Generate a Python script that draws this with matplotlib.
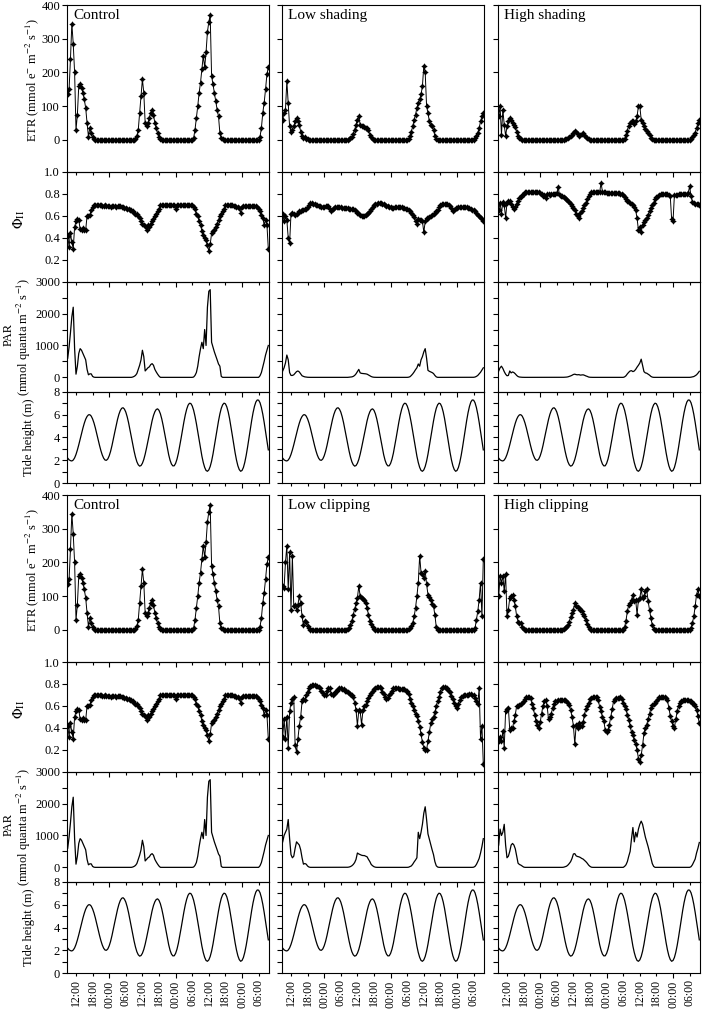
import numpy as np
import matplotlib
matplotlib.use("Agg")
import matplotlib.pyplot as plt

plt.rcParams["font.family"] = "Liberation Serif"
plt.rcParams["mathtext.fontset"] = "stix"

# half-hourly readings, hours counted from midnight of day 1 (9:00 day 1 -> 9:30 day 4)
hours = np.arange(9.0, 82.0, 0.5)

tide_height = [
    2.20, 2.05, 1.98, 1.95, 2.03, 2.22, 2.52, 2.91, 3.36, 3.85, 4.35, 4.82, 5.25, 5.60, 5.84, 5.98, 5.99, 5.87, 5.62, 5.27, 4.83, 4.34, 3.82, 3.31,
    2.85, 2.47, 2.19, 2.03, 2.01, 2.13, 2.40, 2.79, 3.29, 3.85, 4.45, 5.03, 5.57, 6.02, 6.35, 6.55, 6.60, 6.48, 6.22, 5.81, 5.29, 4.69, 4.05, 3.41,
    2.81, 2.29, 1.88, 1.62, 1.50, 1.55, 1.75, 2.08, 2.54, 3.09, 3.69, 4.31, 4.91, 5.46, 5.92, 6.25, 6.45, 6.50, 6.37, 6.07, 5.62, 5.05, 4.41, 3.73,
    3.08, 2.49, 2.01, 1.68, 1.52, 1.53, 1.74, 2.11, 2.63, 3.27, 3.96, 4.68, 5.37, 5.98, 6.47, 6.82, 6.99, 6.97, 6.76, 6.39, 5.86, 5.23, 4.51, 3.76,
    3.03, 2.37, 1.81, 1.39, 1.12, 1.05, 1.17, 1.47, 1.93, 2.54, 3.24, 3.99, 4.74, 5.44, 6.06, 6.55, 6.86, 7.00, 6.94, 6.68, 6.24, 5.65, 4.94, 4.18,
    3.41, 2.67, 2.03, 1.53, 1.20, 1.05, 1.12, 1.38, 1.83, 2.43, 3.15, 3.93, 4.73, 5.50, 6.18, 6.72, 7.10, 7.28, 7.26, 7.04, 6.62, 6.04, 5.33, 4.54,
    3.72, 2.92]

# ---- Control ----
etr_control = [
    135, 150, 240, 345, 285, 200, 30, 75, 160, 165, 155, 140, 120, 95, 50, 10, 35, 20, 8, 2, 0, 0, 0, 0,
    0, 0, 0, 0, 0, 0, 0, 0, 0, 0, 0, 0, 0, 0, 0, 0, 0, 0, 0, 0, 0, 0, 0, 0,
    0, 3, 12, 30, 80, 130, 180, 140, 50, 40, 50, 65, 80, 90, 75, 50, 35, 20, 8, 2, 0, 0, 0, 0,
    0, 0, 0, 0, 0, 0, 0, 0, 0, 0, 0, 0, 0, 0, 0, 0, 0, 0, 0, 5, 30, 65, 100, 140,
    170, 210, 250, 215, 260, 320, 350, 370, 190, 165, 140, 115, 90, 70, 20, 5, 2, 0, 0, 0, 0, 0, 0, 0,
    0, 0, 0, 0, 0, 0, 0, 0, 0, 0, 0, 0, 0, 0, 0, 0, 0, 0, 0, 10, 35, 80, 110, 150,
    195, 215]
phi_control = [
    .42, .32, .44, .36, .30, .50, .55, .57, .56, .48, .47, .49, .47, .47, .60, .60, .61, .65, .68, .70, .70, .70, .70, .70,
    .70, .69, .69, .70, .69, .69, .69, .68, .69, .69, .69, .68, .69, .69, .69, .68, .68, .67, .67, .66, .66, .65, .65, .64,
    .63, .62, .62, .60, .58, .55, .53, .52, .51, .47, .52, .50, .53, .55, .57, .60, .62, .64, .66, .70, .70, .70, .70, .70,
    .70, .70, .70, .70, .70, .70, .66, .70, .70, .70, .70, .70, .70, .70, .70, .70, .70, .70, .70, .68, .66, .62, .60, .55,
    .52, .46, .43, .40, .38, .33, .28, .34, .44, .46, .47, .50, .53, .56, .60, .62, .64, .66, .70, .70, .70, .70, .70, .70,
    .69, .69, .68, .68, .67, .63, .68, .69, .69, .69, .69, .69, .69, .69, .69, .69, .69, .68, .66, .64, .61, .58, .52, .56,
    .52, .30]
par_control = [
    600, 950, 1400, 1900, 2200, 900, 100, 350, 750, 900, 850, 750, 650, 550, 250, 80, 110, 110, 30, 5, 0, 0, 0, 0,
    0, 0, 0, 0, 0, 0, 0, 0, 0, 0, 0, 0, 0, 0, 0, 0, 0, 0, 0, 0, 0, 0, 0, 10,
    30, 60, 120, 250, 380, 550, 850, 650, 200, 250, 300, 330, 400, 430, 380, 250, 170, 100, 40, 0, 0, 0, 0, 0,
    0, 0, 0, 0, 0, 0, 0, 0, 0, 0, 0, 0, 0, 0, 0, 0, 0, 0, 0, 10, 60, 150, 350, 650,
    900, 1100, 900, 1500, 1000, 2200, 2700, 2750, 1100, 950, 800, 680, 550, 420, 350, 30, 0, 0, 0, 0, 0, 0, 0, 0,
    0, 0, 0, 0, 0, 0, 0, 0, 0, 0, 0, 0, 0, 0, 0, 0, 0, 0, 0, 50, 150, 320, 500, 700,
    850, 1000]

# ---- Low shading ----
etr_low_shading = [
    60, 80, 90, 175, 110, 40, 25, 30, 40, 55, 65, 55, 45, 25, 12, 5, 8, 4, 2, 0, 0, 0, 0, 0,
    0, 0, 0, 0, 0, 0, 0, 0, 0, 0, 0, 0, 0, 0, 0, 0, 0, 0, 0, 0, 0, 0, 0, 0,
    2, 5, 10, 18, 30, 45, 60, 70, 45, 40, 40, 38, 36, 34, 30, 15, 8, 3, 1, 0, 0, 0, 0, 0,
    0, 0, 0, 0, 0, 0, 0, 0, 0, 0, 0, 0, 0, 0, 0, 0, 0, 0, 0, 3, 12, 25, 40, 60,
    75, 95, 110, 120, 135, 160, 220, 200, 100, 80, 55, 45, 40, 30, 12, 3, 0, 0, 0, 0, 0, 0, 0, 0,
    0, 0, 0, 0, 0, 0, 0, 0, 0, 0, 0, 0, 0, 0, 0, 0, 0, 0, 0, 5, 12, 22, 35, 55,
    70, 80]
phi_low_shading = [
    .62, .55, .60, .56, .40, .35, .62, .63, .62, .61, .62, .63, .64, .64, .65, .65, .66, .66, .68, .70, .72, .72, .71, .71,
    .70, .70, .69, .69, .68, .68, .68, .69, .69, .69, .66, .64, .66, .67, .68, .68, .68, .68, .68, .67, .67, .67, .67, .67,
    .66, .66, .66, .66, .65, .64, .63, .62, .61, .60, .60, .60, .61, .62, .63, .64, .66, .68, .70, .71, .71, .72, .72, .72,
    .71, .71, .70, .69, .69, .68, .68, .67, .67, .68, .68, .68, .68, .68, .68, .67, .67, .66, .66, .65, .64, .63, .61, .59,
    .55, .53, .57, .56, .56, .55, .45, .55, .58, .58, .59, .60, .61, .62, .63, .64, .65, .68, .70, .71, .71, .71, .71, .71,
    .70, .69, .67, .64, .65, .67, .67, .68, .68, .68, .68, .68, .68, .68, .67, .67, .66, .65, .65, .64, .63, .61, .60, .58,
    .57, .55]
par_low_shading = [
    200, 300, 450, 700, 550, 150, 60, 60, 80, 130, 180, 200, 170, 110, 50, 30, 15, 8, 3, 0, 0, 0, 0, 0,
    0, 0, 0, 0, 0, 0, 0, 0, 0, 0, 0, 0, 0, 0, 0, 0, 0, 0, 0, 0, 0, 0, 0, 0,
    5, 10, 15, 30, 60, 110, 180, 250, 140, 125, 120, 115, 110, 100, 75, 50, 25, 10, 3, 0, 0, 0, 0, 0,
    0, 0, 0, 0, 0, 0, 0, 0, 0, 0, 0, 0, 0, 0, 0, 0, 0, 0, 0, 5, 20, 60, 110, 170,
    240, 300, 420, 350, 550, 650, 800, 900, 600, 220, 190, 170, 150, 120, 60, 15, 0, 0, 0, 0, 0, 0, 0, 0,
    0, 0, 0, 0, 0, 0, 0, 0, 0, 0, 0, 0, 0, 0, 0, 0, 0, 0, 2, 10, 30, 60, 110, 160,
    230, 300]

# ---- High shading ----
etr_high_shading = [
    70, 100, 15, 90, 45, 12, 40, 55, 65, 60, 50, 45, 38, 25, 12, 6, 3, 1, 0, 0, 0, 0, 0, 0,
    0, 0, 0, 0, 0, 0, 0, 0, 0, 0, 0, 0, 0, 0, 0, 0, 0, 0, 0, 0, 0, 0, 0, 1,
    2, 3, 5, 8, 12, 16, 22, 28, 24, 18, 13, 14, 18, 20, 14, 8, 5, 2, 0, 0, 0, 0, 0, 0,
    0, 0, 0, 0, 0, 0, 0, 0, 0, 0, 0, 0, 0, 0, 0, 0, 0, 0, 0, 4, 15, 28, 42, 50,
    55, 55, 48, 55, 70, 100, 100, 60, 50, 42, 33, 28, 20, 15, 6, 2, 0, 0, 0, 0, 0, 0, 0, 0,
    0, 0, 0, 0, 0, 0, 0, 0, 0, 0, 0, 0, 0, 0, 0, 0, 0, 0, 0, 3, 8, 14, 22, 35,
    50, 60]
phi_high_shading = [
    .65, .72, .62, .73, .70, .58, .72, .74, .74, .71, .68, .66, .68, .71, .74, .76, .77, .79, .80, .82, .82, .82, .82, .82,
    .82, .82, .82, .82, .82, .82, .81, .80, .78, .79, .76, .80, .80, .79, .80, .80, .80, .80, .81, .86, .79, .78, .78, .77,
    .76, .75, .74, .73, .71, .69, .67, .65, .62, .60, .58, .63, .64, .67, .70, .72, .75, .78, .80, .82, .82, .82, .82, .82,
    .82, .82, .90, .82, .82, .82, .81, .81, .81, .81, .81, .81, .81, .81, .81, .81, .80, .80, .79, .77, .75, .74, .73, .72,
    .71, .70, .68, .65, .58, .47, .50, .45, .52, .54, .56, .58, .61, .64, .67, .70, .72, .75, .77, .78, .79, .80, .80, .80,
    .80, .80, .80, .79, .78, .57, .55, .79, .79, .79, .80, .80, .80, .80, .80, .80, .80, .81, .87, .78, .73, .72, .71, .71,
    .71, .70]
par_high_shading = [
    200, 300, 350, 280, 180, 100, 50, 60, 200, 140, 170, 150, 110, 60, 25, 10, 5, 2, 0, 0, 0, 0, 0, 0,
    0, 0, 0, 0, 0, 0, 0, 0, 0, 0, 0, 0, 0, 0, 0, 0, 0, 0, 0, 0, 0, 0, 0, 2,
    5, 8, 15, 30, 45, 65, 90, 100, 85, 80, 85, 70, 75, 80, 65, 45, 30, 10, 3, 0, 0, 0, 0, 0,
    0, 0, 0, 0, 0, 0, 0, 0, 0, 0, 0, 0, 0, 0, 0, 0, 0, 0, 0, 15, 50, 110, 160, 200,
    210, 180, 200, 250, 320, 380, 450, 570, 380, 180, 140, 130, 100, 70, 30, 8, 0, 0, 0, 0, 0, 0, 0, 0,
    0, 0, 0, 0, 0, 0, 0, 0, 0, 0, 0, 0, 0, 0, 0, 0, 0, 0, 0, 5, 15, 25, 50, 80,
    130, 190]

# ---- Low clipping ----
etr_low_clipping = [
    130, 125, 200, 250, 120, 230, 60, 220, 70, 75, 60, 75, 100, 80, 40, 15, 28, 25, 12, 5, 1, 0, 0, 0,
    0, 0, 0, 0, 0, 0, 0, 0, 0, 0, 0, 0, 0, 0, 0, 0, 0, 0, 0, 0, 0, 0, 1, 3,
    6, 15, 28, 45, 62, 80, 95, 130, 100, 95, 92, 88, 80, 65, 45, 28, 18, 8, 2, 0, 0, 0, 0, 0,
    0, 0, 0, 0, 0, 0, 0, 0, 0, 0, 0, 0, 0, 0, 0, 0, 0, 0, 0, 2, 5, 12, 22, 40,
    65, 100, 140, 220, 170, 165, 155, 175, 135, 105, 98, 90, 78, 70, 45, 8, 0, 0, 0, 0, 0, 0, 0, 0,
    0, 0, 0, 0, 0, 0, 0, 0, 0, 0, 0, 0, 0, 0, 0, 0, 0, 0, 0, 5, 30, 55, 90, 140,
    40, 210]
phi_low_clipping = [
    .32, .48, .30, .50, .22, .55, .63, .66, .68, .24, .18, .30, .42, .50, .64, .66, .65, .70, .73, .76, .78, .79, .79, .79,
    .78, .78, .77, .76, .74, .72, .70, .70, .74, .76, .76, .71, .70, .71, .73, .74, .75, .76, .76, .75, .75, .74, .74, .73,
    .72, .71, .70, .68, .63, .56, .42, .56, .55, .43, .56, .60, .61, .64, .67, .70, .72, .74, .75, .76, .77, .77, .77, .76,
    .73, .71, .68, .66, .67, .70, .72, .74, .76, .76, .76, .76, .75, .75, .75, .75, .75, .74, .74, .71, .66, .63, .60, .56,
    .53, .51, .46, .41, .34, .27, .22, .20, .20, .28, .36, .44, .48, .50, .54, .60, .64, .68, .73, .76, .77, .77, .76, .76,
    .74, .73, .69, .66, .63, .60, .58, .62, .65, .68, .69, .70, .70, .70, .70, .71, .71, .70, .70, .67, .64, .62, .76, .30,
    .42, .07]
par_low_clipping = [
    800, 1000, 1100, 1200, 1500, 900, 400, 300, 350, 600, 800, 750, 700, 550, 300, 100, 120, 100, 40, 10, 0, 0, 0, 0,
    0, 0, 0, 0, 0, 0, 0, 0, 0, 0, 0, 0, 0, 0, 0, 0, 0, 0, 0, 0, 0, 0, 0, 3,
    10, 25, 50, 90, 150, 250, 450, 420, 400, 380, 370, 370, 350, 330, 250, 180, 90, 50, 20, 5, 0, 0, 0, 0,
    0, 0, 0, 0, 0, 0, 0, 0, 0, 0, 0, 0, 0, 0, 0, 0, 0, 0, 0, 5, 25, 45, 100, 170,
    230, 300, 1100, 900, 1100, 1350, 1700, 1900, 1500, 1050, 880, 700, 550, 400, 180, 50, 10, 0, 0, 0, 0, 0, 0, 0,
    0, 0, 0, 0, 0, 0, 0, 0, 0, 0, 0, 0, 0, 0, 0, 0, 0, 0, 5, 30, 90, 180, 280, 450,
    650, 900]

# ---- High clipping ----
etr_high_clipping = [
    100, 160, 140, 160, 115, 165, 40, 60, 95, 100, 105, 90, 70, 40, 25, 22, 20, 10, 4, 1, 0, 0, 0, 0,
    0, 0, 0, 0, 0, 0, 0, 0, 0, 0, 0, 0, 0, 0, 0, 0, 0, 0, 0, 0, 0, 0, 0, 2,
    5, 10, 15, 25, 38, 50, 60, 80, 70, 68, 64, 60, 55, 48, 40, 30, 18, 10, 3, 0, 0, 0, 0, 0,
    0, 0, 0, 0, 0, 0, 0, 0, 0, 0, 0, 0, 0, 0, 0, 0, 0, 0, 0, 8, 28, 55, 75, 80,
    90, 105, 85, 90, 45, 90, 95, 120, 95, 100, 115, 120, 85, 60, 35, 15, 4, 0, 0, 0, 0, 0, 0, 0,
    0, 0, 0, 0, 0, 0, 0, 0, 0, 0, 0, 0, 0, 0, 0, 0, 0, 0, 0, 5, 20, 40, 70, 105,
    120, 100]
phi_high_clipping = [
    .28, .32, .28, .37, .22, .55, .57, .58, .38, .40, .40, .46, .52, .60, .60, .61, .62, .63, .64, .66, .68, .68, .68, .67,
    .62, .58, .52, .46, .43, .40, .45, .53, .60, .64, .65, .60, .48, .50, .53, .58, .62, .64, .64, .65, .65, .65, .65, .65,
    .65, .64, .63, .61, .56, .50, .42, .25, .43, .40, .44, .42, .42, .45, .52, .57, .60, .63, .66, .67, .68, .68, .68, .68,
    .65, .59, .55, .50, .46, .38, .36, .38, .43, .50, .57, .64, .66, .67, .67, .67, .68, .66, .63, .60, .57, .52, .47, .42,
    .36, .33, .29, .25, .20, .12, .09, .15, .24, .35, .40, .43, .48, .53, .58, .61, .62, .63, .64, .66, .68, .68, .68, .68,
    .68, .67, .65, .58, .51, .46, .42, .40, .48, .55, .60, .63, .64, .65, .65, .65, .65, .65, .64, .64, .63, .62, .60, .56,
    .51, .44]
par_high_clipping = [
    700, 1200, 1000, 1100, 1350, 700, 300, 350, 500, 700, 750, 700, 580, 350, 130, 90, 70, 40, 10, 0, 0, 0, 0, 0,
    0, 0, 0, 0, 0, 0, 0, 0, 0, 0, 0, 0, 0, 0, 0, 0, 0, 0, 0, 0, 0, 0, 0, 5,
    20, 35, 70, 120, 180, 280, 420, 430, 360, 340, 330, 310, 280, 260, 220, 180, 130, 70, 30, 5, 0, 0, 0, 0,
    0, 0, 0, 0, 0, 0, 0, 0, 0, 0, 0, 0, 0, 0, 0, 0, 0, 0, 0, 30, 80, 180, 350, 500,
    900, 1250, 800, 1100, 950, 1200, 1350, 1450, 1350, 1150, 950, 800, 650, 480, 300, 120, 30, 0, 0, 0, 0, 0, 0, 0,
    0, 0, 0, 0, 0, 0, 0, 0, 0, 0, 0, 0, 0, 0, 0, 0, 0, 0, 0, 20, 80, 170, 260, 450,
    600, 780]

top_titles = ["Control", "Low shading", "High shading"]
bottom_titles = ["Control", "Low clipping", "High clipping"]

major_hours = [24, 48, 72]
major_labels = ["00:00", "00:00", "00:00"]
minor_hours = [12, 18, 30, 36, 42, 54, 60, 66, 78]
minor_labels = ["12:00", "18:00", "06:00", "12:00", "18:00", "06:00", "12:00", "18:00", "06:00"]

halves = [
    (top_titles, [etr_control, etr_low_shading, etr_high_shading],
     [phi_control, phi_low_shading, phi_high_shading],
     [par_control, par_low_shading, par_high_shading]),
    (bottom_titles, [etr_control, etr_low_clipping, etr_high_clipping],
     [phi_control, phi_low_clipping, phi_high_clipping],
     [par_control, par_low_clipping, par_high_clipping]),
]

for name, arr in [("tide", tide_height)] + [(t, s) for h in halves for grp in h[1:] for t, s in zip(h[0], grp)]:
    if len(arr) != len(hours):
        raise ValueError(f"{name}: {len(arr)} values")

W, H = 704, 1013
fig = plt.figure(figsize=(W / 100, H / 100), dpi=100)

col_left = [67, 282, 498]
col_width = 202
row_edges = [(5, 172), (172, 281.7), (281.7, 391.7), (391.7, 483.3)]
half_shift = [0, 490]


def make_ax(col, half, row):
    top, bottom = row_edges[row]
    top += half_shift[half]
    bottom += half_shift[half]
    ax = fig.add_axes([col_left[col] / W, 1 - bottom / H, col_width / W, (bottom - top) / H])
    ax.patch.set_visible(False)
    for s in ax.spines.values():
        s.set_linewidth(0.8)
    ax.set_xlim(8.75, 81.75)
    ax.set_xticks(major_hours, labels=major_labels)
    ax.set_xticks(minor_hours, labels=minor_labels, minor=True)
    ax.tick_params(axis="x", which="both", direction="out", width=0.8, labelsize=8.5,
                   labelrotation=90, pad=2, labelbottom=(half == 1 and row == 3))
    ax.tick_params(axis="x", which="major", length=3.6)
    ax.tick_params(axis="x", which="minor", length=1.8)
    ax.tick_params(axis="y", which="both", direction="out", width=0.8, length=3.5,
                   labelsize=9, pad=1.5, labelleft=(col == 0))
    return ax


dot_style = dict(color="black", lw=0.7, marker=(4, 1, 0), ms=3.8, mew=0.6)

for h, (titles, etr_set, phi_set, par_set) in enumerate(halves):
    for c in range(3):
        ax = make_ax(c, h, 0)
        ax.plot(hours, etr_set[c], **dot_style)
        ax.set_ylim(-95, 400)
        ax.set_yticks([0, 100, 200, 300, 400])
        ax.text(0.03, 0.975, titles[c], transform=ax.transAxes, ha="left", va="top", fontsize=11)
        if c == 0:
            ax.set_ylabel(r"ETR (mmol e$^{-}$ m$^{-2}$ s$^{-1}$)", fontsize=9)
            ax.yaxis.set_label_coords(-0.13, 0.55)

        ax = make_ax(c, h, 1)
        ax.plot(hours, phi_set[c], **dot_style)
        ax.set_ylim(0, 1)
        ax.set_yticks([0.2, 0.4, 0.6, 0.8, 1.0], labels=["0.2", "0.4", "0.6", "0.8", "1.0"])
        if c == 0:
            ax.set_ylabel(r"$\Phi_{\mathrm{II}}$", fontsize=10)
            ax.yaxis.set_label_coords(-0.2, 0.57)

        ax = make_ax(c, h, 2)
        ax.plot(hours, par_set[c], color="black", lw=0.9)
        ax.set_ylim(-450, 3000)
        ax.set_yticks([0, 1000, 2000, 3000])
        ax.set_yticks([500, 1500, 2500], minor=True)
        if c == 0:
            ax.set_ylabel(r"(mmol quanta m$^{-2}$ s$^{-1}$)", fontsize=9)
            ax.yaxis.set_label_coords(-0.17, 0.5)
            ax.text(-0.29, 0.52, "PAR", transform=ax.transAxes, rotation=90,
                    ha="center", va="center", fontsize=9)

        ax = make_ax(c, h, 3)
        ax.plot(hours, tide_height, color="black", lw=0.9)
        ax.set_ylim(0, 8)
        ax.set_yticks([0, 2, 4, 6, 8])
        ax.set_yticks([1, 3, 5, 7], minor=True)
        if c == 0:
            ax.set_ylabel("Tide height (m)", fontsize=9)
            ax.yaxis.set_label_coords(-0.16, 0.5)

fig.savefig("out.png", dpi=100)
